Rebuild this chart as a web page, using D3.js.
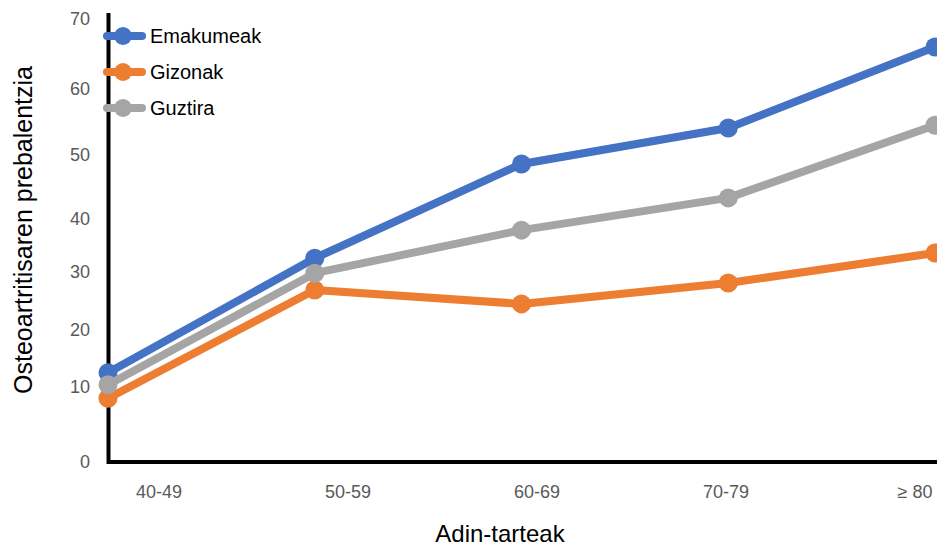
<!DOCTYPE html>
<html><head><meta charset="utf-8">
<script src="https://cdn.jsdelivr.net/npm/d3@7"></script>
<style>body{margin:0;background:#fff}svg{display:block}</style>
</head><body>
<svg id="c" width="937" height="549"></svg>
<script>
const categories = ["40-49", "50-59", "60-69", "70-79", "≥ 80"];
const emakumeak = [12.5, 32.6, 48.6, 54.1, 66.0];
const gizonak = [8.5, 26.9, 24.5, 28.1, 33.6];
const guztira = [10.4, 29.8, 37.9, 43.3, 54.5];
const yTicks = [0, 10, 20, 30, 40, 50, 60, 70];
const seriesNames = ["Emakumeak", "Gizonak", "Guztira"];
const colors = {Emakumeak: "#4472C4", Gizonak: "#ED7D31", Guztira: "#A5A5A5"};

const svg = d3.select("#c");
const font = "Liberation Sans, Arial, Helvetica, sans-serif";

// point positions and label positions
const x = d3.scalePoint().domain(categories).range([108, 935]);
const xLab = d3.scalePoint().domain(categories).range([159, 915]);
// the original chart's value axis is unevenly spaced; follow its tick positions
const y = d3.scaleLinear().domain(yTicks).range([462, 387, 330, 272, 219, 155, 89, 19]);

// y tick labels
svg.append("g").selectAll("text").data(yTicks).join("text")
  .attr("x", 90).attr("y", d => y(d)).attr("dy", "0.35em")
  .attr("text-anchor", "end").attr("font-family", font).attr("font-size", 18)
  .attr("fill", "#595959").text(d => d);

// x tick labels
svg.append("g").selectAll("text").data(categories).join("text")
  .attr("x", d => xLab(d)).attr("y", 498)
  .attr("text-anchor", "middle").attr("font-family", font).attr("font-size", 18)
  .attr("fill", "#595959").text(d => d);

// axes lines
svg.append("path").attr("d", "M108.5,13V462H937")
  .attr("fill", "none").attr("stroke", "#000").attr("stroke-width", 4);

// titles
svg.append("text").attr("transform", "translate(32,230) rotate(-90)")
  .attr("text-anchor", "middle").attr("font-family", font).attr("font-size", 25)
  .attr("fill", "#000").text("Osteoartritisaren prebalentzia");
svg.append("text").attr("x", 500).attr("y", 542)
  .attr("text-anchor", "middle").attr("font-family", font).attr("font-size", 24)
  .attr("fill", "#000").text("Adin-tarteak");

const data = {Emakumeak: emakumeak, Gizonak: gizonak, Guztira: guztira};
const line = d3.line().x((d, i) => x(categories[i])).y(d => y(d));
const order = ["Gizonak", "Emakumeak", "Guztira"];
const g = svg.append("g");
order.forEach(name => {
  const vals = data[name];
  g.append("path").datum(vals).attr("d", line)
    .attr("fill", "none").attr("stroke", colors[name]).attr("stroke-width", 8)
    .attr("stroke-linejoin", "round");
  g.append("g").selectAll("circle").data(vals).join("circle")
    .attr("cx", (d, i) => x(categories[i])).attr("cy", d => y(d)).attr("r", 9.5)
    .attr("fill", colors[name]);
});

// legend
const leg = svg.append("g");
seriesNames.forEach((name, i) => {
  const yy = 36 + i * 36;
  leg.append("line").attr("x1", 107).attr("x2", 142).attr("y1", yy).attr("y2", yy)
    .attr("stroke", colors[name]).attr("stroke-width", 8).attr("stroke-linecap", "round");
  leg.append("circle").attr("cx", 123).attr("cy", yy).attr("r", 9).attr("fill", colors[name]);
  leg.append("text").attr("x", 150).attr("y", yy).attr("dy", "0.35em")
    .attr("font-family", font).attr("font-size", 20).attr("fill", "#000").text(name);
});
</script>
</body></html>
